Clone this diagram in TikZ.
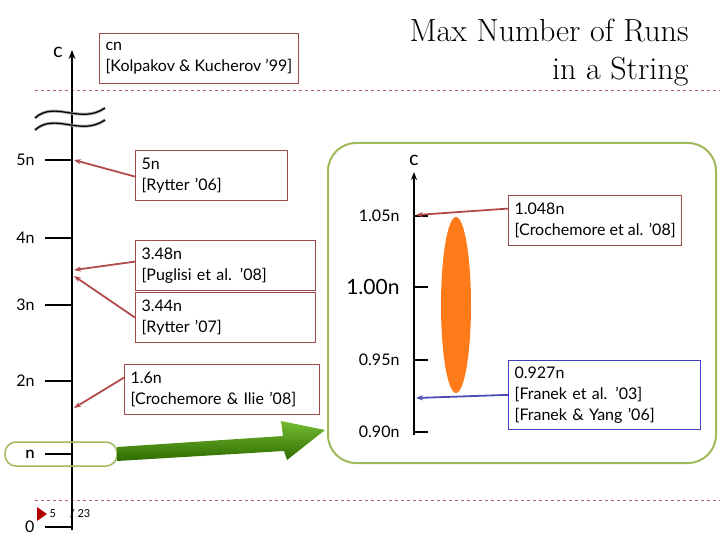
\documentclass[tikz,border=0pt]{standalone}
\usepackage{fontspec}
\setsansfont{Lato}
\usetikzlibrary{arrows.meta,shapes.geometric}
\definecolor{olv}{RGB}{160,185,90}
\begin{document}
\begin{tikzpicture}[x=1pt,y=-1pt,
 rbox/.style={draw=red!45!black!70,line width=1.2pt,fill=white,align=left,anchor=north west,font=\sffamily\fontsize{16}{21}\selectfont,inner sep=6pt,minimum height=50pt},
 bbox/.style={rbox,draw=blue!50!gray},
 lab/.style={font=\sffamily\fontsize{16}{18}\selectfont},
 tick/.style={line width=2.2pt},
 rarr/.style={draw=red!40!gray,line width=1.8pt,-{Stealth[length=7pt,fill=red!60!black]}},
 barr/.style={draw=blue!40!gray,line width=1.8pt,-{Stealth[length=7pt,fill=blue!60!black]}}]
\useasboundingbox (0,0) rectangle (720,540);
\draw[red!50!black!60,dashed] (35,90) -- (720,90);
\draw[red!50!black!60,dashed] (35,500) -- (720,500);
\node[anchor=north east,align=right,font=\fontsize{32}{38}\selectfont] (title) at (692,16) {Max Number of Runs\\in a String};
% left axis
\coordinate (abot) at (72,530);
\coordinate (atop) at (72,50);
\draw[line width=2pt,-{Stealth[length=9pt]}] (abot) -- (atop);
\node[lab,font=\sffamily\fontsize{20}{20}\selectfont] (c1) at (58,52) {c};
\foreach \o in {0,12}{
\draw[line width=3pt,gray!70] (35,118+\o) .. controls (55,100+\o) and (80,125+\o) .. (105,108+\o);
\draw[line width=1.2pt,black] (35,118+\o) .. controls (55,100+\o) and (80,125+\o) .. (105,108+\o);
}
\foreach \y/\t/\n in {160/5n/t5,238/4n/t4,305/3n/t3,381/2n/t2,454/n/t1,527/0/t0}{
  \coordinate (\n) at (72,\y);
  \draw[tick] (45,\y) -- (\n);
  \node[lab,anchor=east] at (38,\y) {\t};
}
\draw[olv,line width=1.5pt,rounded corners=11pt] (5,442) rectangle (117,466);
\node[lab] (nl) at (30,454) {n};
\fill[red!70!black] (37,507) -- (47,514) -- (37,521) -- cycle;
\node[font=\sffamily\fontsize{11}{12}\selectfont] (pg) at (70,514) {5 \quad/ 23};
% left boxes
\node[rbox] (b0) at (99,33) {cn\\{}[Kolpakov \& Kucherov '99]};
\node[rbox,text width=140pt] (b1) at (135,150) {5n\\{}[Rytter '06]};
\node[rbox,text width=168pt] (b2) at (135,240) {3.48n\\{}[Puglisi et al. '08]};
\node[rbox,text width=168pt] (b3) at (135,292) {3.44n\\{}[Rytter '07]};
\node[rbox,text width=183pt] (b4) at (124,364) {1.6n\\{}[Crochemore \& Ilie '08]};
\coordinate (p1) at (74,160);
\coordinate (p2) at (74,270);
\coordinate (p3) at (74,276);
\coordinate (p4) at (74,408);
\draw[rarr] (b1.west) ++(0,1) -- (p1);
\draw[rarr] (b2.west) ++(0,-4) -- (p2);
\draw[rarr] (b3.west) -- (p3);
\draw[rarr] (b4.west) ++(0,-12) -- (p4);
% right panel
\draw[olv,line width=2pt,rounded corners=28pt] (328,143) rectangle (716,463);
\shade[top color=green!35!olive!80,bottom color=green!40!olive!60!black]
 (117,447) -- (283,436) -- (281,421) -- (325,430) -- (287,460) -- (284,451) -- (117,461) -- cycle;
% right axis
\coordinate (rbot) at (414,435);
\coordinate (rtop) at (414,172);
\draw[line width=1.5pt,-{Stealth[length=8pt]}] (rbot) -- (rtop);
\node[lab,font=\sffamily\fontsize{20}{20}\selectfont] (c2) at (414,160) {c};
\fill[orange!85!red!90] (456,305) ellipse (15pt and 88pt);
\foreach \y/\t/\n/\f in {216/1.05n/r1/16,287/1.00n/r2/21,360/0.95n/r3/16,432/0.90n/r4/16}{
  \coordinate (\n) at (414,\y);
  \draw[line width=1.5pt] (\n) -- (428,\y);
  \node[font=\sffamily\fontsize{\f}{18}\selectfont,anchor=east] at (403,\y) {\t};
}
\node[rbox] (b5) at (508,195) {1.048n\\{}[Crochemore et al. '08]};
\node[bbox,text width=180pt] (b6) at (508,360) {0.927n\\{}[Franek et al. '03]\\{}[Franek \& Yang '06]};
\coordinate (q1) at (416,215);
\coordinate (q2) at (416,398);
\draw[rarr] (b5.west) ++(0,-12) -- (q1);
\draw[barr] (b6.west) -- (q2);
\end{tikzpicture}
\end{document}
